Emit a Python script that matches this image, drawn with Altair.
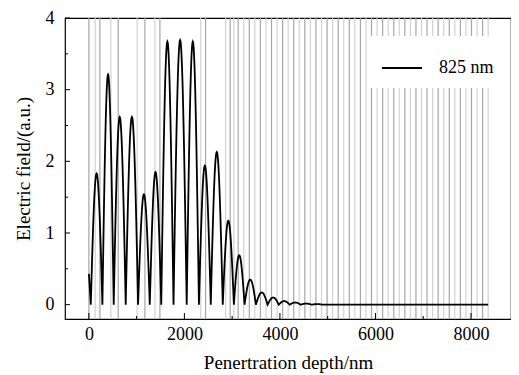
import altair as alt
import numpy as np
import pandas as pd

# ---- values ----
# depth (nm) of the field nodes (zeros of the standing wave)
node_depth = [40, 283, 520, 771, 1030, 1275, 1515, 1772, 2048, 2304, 2552,
              2803, 3036, 3259, 3497, 3742, 3975, 4205, 4435, 4665, 4895]
# peak value of each lobe between two consecutive nodes
lobe_peak = [1.83, 3.21, 2.62, 2.62, 1.54, 1.85, 3.67, 3.69, 3.67, 1.94,
             2.13, 1.17, 0.69, 0.35, 0.17, 0.10, 0.05, 0.03, 0.015, 0.008]
surface_value = 0.43      # field at depth 0
structure_end = 8360      # end of the curve (nm)

# layer boundaries (nm), drawn as grey vertical lines
layer_boundaries = [0, 132, 230, 461, 614, 1011, 1173, 1382, 1487, 2339, 2444,
                    2863, 2959, 3036, 3126, 3242, 3359, 3475, 3591, 3708, 3824,
                    3940, 4056, 4173, 4289, 4405, 4522, 4638, 4754, 4871, 4987,
                    5103, 5220, 5336, 5452, 5568, 5685, 5801, 5917, 6034, 6150,
                    6266, 6383, 6499, 6615, 6731, 6848, 6964, 7080, 7197, 7313,
                    7429, 7546, 7662, 7778, 7894, 8011, 8127, 8243, 8360]

x_major = [0, 2000, 4000, 6000, 8000]
x_minor = [1000, 3000, 5000, 7000]
y_major = [0, 1, 2, 3, 4]
y_minor = [0.5, 1.5, 2.5, 3.5]
legend_label = "825 nm"

# ---- build the curve: |sin|-shaped lobes between the read nodes ----
xs, ys = [], []
half = node_depth[1] - node_depth[0]
a0 = surface_value / np.sin(np.pi * node_depth[0] / half)
t = np.linspace(0, node_depth[0], 12)
xs += list(t)
ys += list(a0 * np.sin(np.pi * (node_depth[0] - t) / half))
for i, amp in enumerate(lobe_peak):
    a, b = node_depth[i], node_depth[i + 1]
    t = np.linspace(a, b, 41)[1:]
    xs += list(t)
    ys += list(amp * np.abs(np.sin(np.pi * (t - a) / (b - a))))
xs += [structure_end]
ys += [0.0]
curve = pd.DataFrame({"depth": xs, "field": ys, "label": legend_label})

bounds = pd.DataFrame({
    "depth": layer_boundaries,
    "tone": ["dark" if i % 2 == 0 else "light" for i in range(len(layer_boundaries))],
})

W, H = 446, 301
FONT = "Liberation Serif"
xscale = alt.Scale(domain=[-500, 8838], nice=False, zero=False)
yscale = alt.Scale(domain=[-0.2, 4], nice=False, zero=False)

rules = alt.Chart(bounds).mark_rule(strokeWidth=1.2).encode(
    x=alt.X("depth:Q", scale=xscale,
            axis=alt.Axis(values=x_major, title="Penertration depth/nm",
                          format="d", ticks=False, domain=False, grid=False,
                          labelPadding=6, titlePadding=10)),
    color=alt.Color("tone:N",
                    scale=alt.Scale(domain=["dark", "light"], range=["#a6a6a6", "#d2d2d2"]),
                    legend=None),
)

line = alt.Chart(curve).mark_line(strokeWidth=1.8, interpolate="linear").encode(
    x=alt.X("depth:Q", scale=xscale),
    y=alt.Y("field:Q", scale=yscale,
            axis=alt.Axis(values=y_major, title="Electric field/(a.u.)",
                          format="d", ticks=False, domain=False, grid=False,
                          labelPadding=11, titlePadding=12)),
    color=alt.Color("label:N",
                    scale=alt.Scale(domain=[legend_label], range=["black"]),
                    legend=alt.Legend(title=None, orient="none", legendX=305, legendY=18,
                                      fillColor="white", padding=11,
                                      symbolType="stroke", symbolSize=1600,
                                      symbolStrokeWidth=1.8, labelOffset=16,
                                      labelFont=FONT, labelFontSize=18,
                                      labelColor="black")),
)

xticks_major = alt.Chart(pd.DataFrame({"v": x_major})).mark_rule(color="black", strokeWidth=1).encode(
    x=alt.X("v:Q", scale=xscale), y=alt.value(H), y2=alt.value(H - 6))
xticks_minor = alt.Chart(pd.DataFrame({"v": x_minor})).mark_rule(color="black", strokeWidth=1).encode(
    x=alt.X("v:Q", scale=xscale), y=alt.value(H), y2=alt.value(H - 3))
yticks_major = alt.Chart(pd.DataFrame({"v": y_major})).mark_rule(color="black", strokeWidth=1).encode(
    y=alt.Y("v:Q", scale=yscale), x=alt.value(0), x2=alt.value(5))
yticks_minor = alt.Chart(pd.DataFrame({"v": y_minor})).mark_rule(color="black", strokeWidth=1).encode(
    y=alt.Y("v:Q", scale=yscale), x=alt.value(0), x2=alt.value(3))

chart = alt.layer(rules, line, xticks_major, xticks_minor, yticks_major, yticks_minor).resolve_scale(
    color="independent"
).properties(
    width=W, height=H,
    autosize=alt.AutoSizeParams(type="none"),
    padding={"left": 57, "top": 10, "right": 0, "bottom": 54},
    background="white",
).configure_view(
    stroke="black", strokeWidth=1.2
).configure_axis(
    labelFont=FONT, labelFontSize=18, labelColor="black",
    titleFont=FONT, titleFontSize=19, titleFontWeight="normal", titleColor="black",
)

chart.save("out.html", embed_options={"renderer": "svg", "actions": False})
